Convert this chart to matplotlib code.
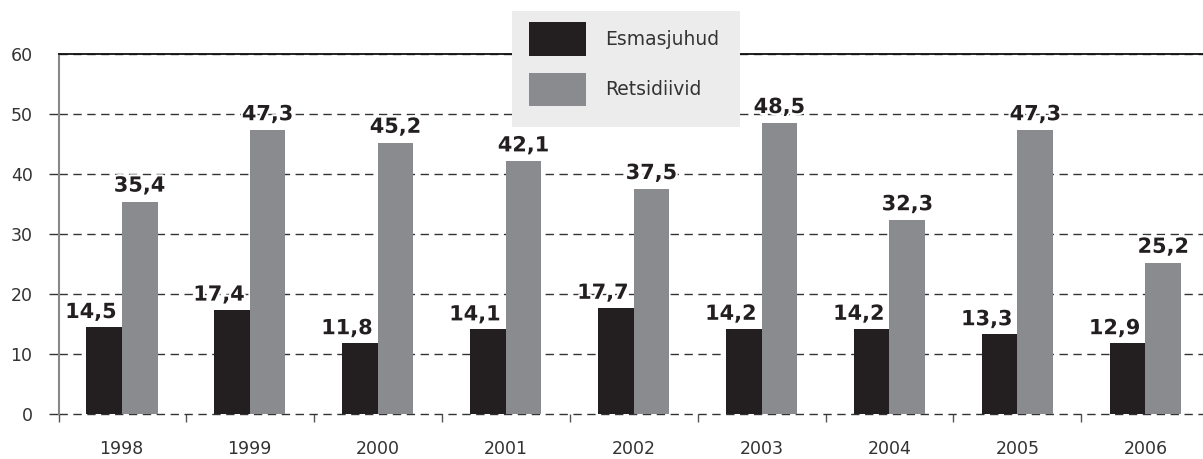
import numpy as np
import matplotlib
matplotlib.use("Agg")
import matplotlib.pyplot as plt
import matplotlib.patheffects as pe
from matplotlib.patches import Rectangle

# andmed
aastad = ["1998", "1999", "2000", "2001", "2002", "2003", "2004", "2005", "2006"]
esmasjuhud = [14.5, 17.4, 11.8, 14.1, 17.7, 14.2, 14.2, 13.3, 11.8]
retsidiivid = [35.4, 47.3, 45.2, 42.1, 37.5, 48.5, 32.3, 47.3, 25.2]
esmas_sildid = ["14,5", "17,4", "11,8", "14,1", "17,7", "14,2", "14,2", "13,3", "12,9"]
retsid_sildid = ["35,4", "47,3", "45,2", "42,1", "37,5", "48,5", "32,3", "47,3", "25,2"]
y_tikid = [0, 10, 20, 30, 40, 50, 60]

MUST = "#231f20"
HALL = "#8a8b8e"
W, H = 1203, 459

plt.rcParams['font.family'] = ['DejaVu Sans']

fig = plt.figure(figsize=(W / 100, H / 100), dpi=100)
ax = fig.add_axes([59 / W, 1 - 414 / H, 1 - 59 / W, 360 / H])

x = np.arange(len(aastad))
laius = 0.28
ax.bar(x - laius / 2, esmasjuhud, laius, color=MUST, zorder=3, label="Esmasjuhud")
ax.bar(x + laius / 2, retsidiivid, laius, color=HALL, zorder=3, label="Retsidiivid")

halo = [pe.withStroke(linewidth=3, foreground="white")]
for i in range(len(aastad)):
    ax.annotate(esmas_sildid[i], (x[i], esmasjuhud[i]), xytext=(-5, 5),
                textcoords="offset pixels", ha="right", va="bottom",
                fontsize=15, fontweight="bold", color=MUST, zorder=4, path_effects=halo)
    ax.annotate(retsid_sildid[i], (x[i] + laius / 2, retsidiivid[i]), xytext=(0, 6),
                textcoords="offset pixels", ha="center", va="bottom",
                fontsize=15, fontweight="bold", color=MUST, zorder=4, path_effects=halo)

ax.set_xlim(-0.49, 8.45)
ax.set_ylim(0, 60)
ax.set_yticks(y_tikid)
ax.grid(axis="y", linestyle=(0, (6, 4)), color="#333333", linewidth=1, zorder=1)
for gl in ax.get_ygridlines():
    gl.set_clip_on(False)
ax.tick_params(axis="y", length=7, width=1, color="#333333", pad=12,
               labelsize=12.5, labelcolor="#333333")
ax.yaxis.get_major_ticks()[-1].tick1line.set_visible(False)

ax.set_xticks(x)
ax.set_xticklabels(aastad)
ax.tick_params(axis="x", length=0, pad=19, labelsize=12.5, labelcolor="#333333")
ax.set_xticks(list(np.arange(0.5, 8, 1.0)) + [-0.49], minor=True)
ax.tick_params(axis="x", which="minor", length=6, width=1, color="#555555")

ax.spines["right"].set_visible(False)
ax.spines["bottom"].set_visible(False)
ax.spines["left"].set_color("#888888")
ax.spines["left"].set_linewidth(1.5)
ax.spines["top"].set_color("#111111")
ax.spines["top"].set_linewidth(1.3)

# legendi taust
fig.patches.append(Rectangle((512 / W, 1 - 127 / H), 228 / W, 116 / H,
                             transform=fig.transFigure, facecolor="#ececec",
                             edgecolor="none", zorder=5))
leg = fig.legend(loc="upper left", bbox_to_anchor=(512 / W, 1 - 5 / H),
                 frameon=False, fontsize=13.5, handlelength=3.05, handleheight=2.4,
                 handletextpad=1.0, labelspacing=0.9, borderpad=0.4)
leg.set_zorder(6)
for t in leg.get_texts():
    t.set_color("#333333")

fig.savefig("out.png", dpi=100)
